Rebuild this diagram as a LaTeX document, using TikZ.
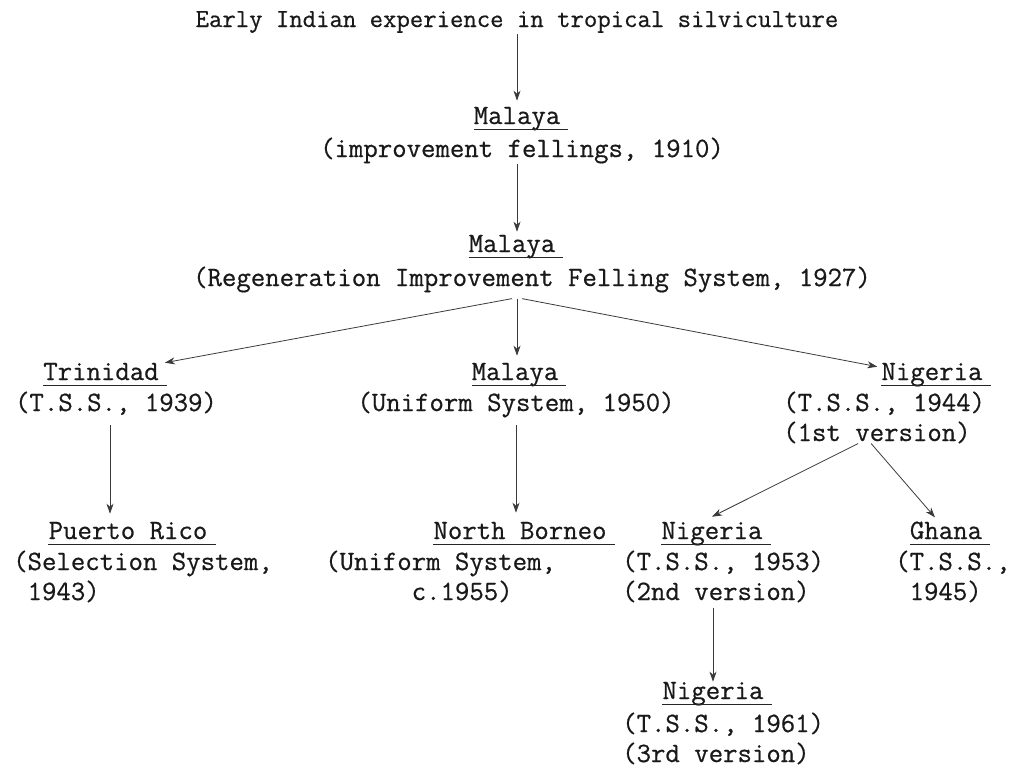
\documentclass[tikz,border=0pt]{standalone}
\usepackage{fontspec}
\usepackage{xcolor}
\usepackage{tikz}
\usetikzlibrary{arrows.meta}
\newfontfamily\typewriter{Latin Modern Mono}[FakeBold=0.6]
\definecolor{inkgray}{HTML}{3A3A3A}

\begin{document}
\begin{tikzpicture}[x=1pt,y=-1pt,
	txt/.style={font=\fontsize{28}{30}\selectfont\typewriter,inner sep=0pt,text=black!90},
	place/.style={txt,anchor=base},
	info/.style={txt,anchor=base west,align=left},
	uline/.style={line width=0.9pt,black!85},
	arr/.style={-{Stealth[length=10pt,width=7pt,inset=3pt]},line width=0.8pt,inkgray}]
	\useasboundingbox (0,0) rectangle (1018,769);

	\node[place,font=\fontsize{26}{30}\selectfont\typewriter] (early) at (517,27) {Early Indian experience in tropical silviculture};
	\node[place] (malA) at (517,124) {Malaya};
	\node[place] (malAd) at (522,157) {(improvement fellings, 1910)};
	\node[place] (malB) at (512,252) {Malaya};
	\node[place] (regen) at (532,286) {(Regeneration Improvement Felling System, 1927)};

	\node[place] (trin) at (101,380) {Trinidad};
	\node[place] (trind) at (116,411) {(T.S.S., 1939)};
	\node[place] (malC) at (515,380) {Malaya};
	\node[place] (malCd) at (516,411) {(Uniform System, 1950)};
	\node[place] (nigA) at (932,380) {Nigeria};
	\node[info] (nigAd) at (783,441) {(T.S.S., 1944)\\(1st version)};

	\node[place] (puer) at (128,539) {Puerto Rico};
	\node[info] (puerd) at (13,600) {(Selection System,\\~1943)};
	\node[place] (borneo) at (520,539) {North Borneo};
	\node[info] (borneod) at (325,600) {(Uniform System,\\~~~~~~c.1955)};
	\node[place] (nigB) at (712,539) {Nigeria};
	\node[info] (nigBd) at (622,600) {(T.S.S., 1953)\\(2nd version)};
	\node[place] (ghana) at (946,539) {Ghana};
	\node[info] (ghanad) at (895,600) {(T.S.S.,\\~1945)};

	\node[place] (nigC) at (713,699) {Nigeria};
	\node[info] (nigCd) at (622,762) {(T.S.S., 1961)\\(3rd version)};

	% underlined place names
	\foreach \n in {malA,malB,trin,malC,nigA,puer,borneo,nigB,ghana,nigC}
		\draw[uline] ([yshift=-5pt]\n.base west) -- ([xshift=8pt,yshift=-5pt]\n.base east);

	\draw[arr,shorten <=1pt,shorten >=6pt] (early.south) -- (malA.north);
	\draw[arr,shorten >=3pt] (malAd.south -| malA) -- (malB.north -| malA);

	\coordinate (fork) at ([yshift=-6pt]regen.south -| malA);
	\draw[arr] ([xshift=-5pt]fork) -- ([xshift=6pt]trin.north east);
	\draw[arr,shorten >=7pt] (fork) -- (malC.north -| fork);
	\draw[arr] ([xshift=5pt]fork) -- ([xshift=-4pt,yshift=-4pt]nigA.north west);

	\draw[arr,shorten <=10pt,shorten >=8pt] ([xshift=-6pt]trind.south) -- ([xshift=-6pt]trind.south |- puer.north);
	\draw[arr,shorten <=7pt,shorten >=9pt] (malCd.south) -- (malCd.south |- borneo.north);
	\draw[arr] ([xshift=-26pt]nigAd.south) -- ([yshift=5pt]nigB.north);
	\draw[arr] ([xshift=-13pt]nigAd.south) -- ([xshift=-11pt,yshift=4pt]ghana.north);
	\draw[arr,shorten <=5pt] (nigBd.south -| nigC) -- (nigC.north);
\end{tikzpicture}
\end{document}
